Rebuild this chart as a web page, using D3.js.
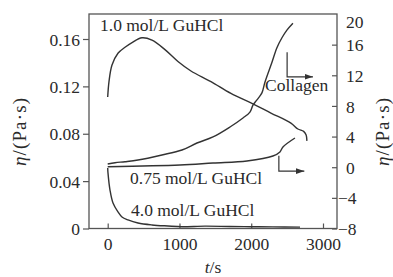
<!DOCTYPE html>
<html>
<head>
<meta charset="utf-8">
<script src="https://cdn.jsdelivr.net/npm/d3@7"></script>
<style>
  body { margin: 0; background: #fff; }
</style>
</head>
<body>
<div id="figure"></div>
<script>
// curves: [t (s), eta]
// left axis (Pa·s)
const gu10 = [[0,0.111],[18,0.124],[60,0.138],[143,0.148],[241,0.153],[339,0.157],[478,0.161],[617,0.159],
  [798,0.151],[979,0.141],[1160,0.133],[1439,0.124],[1717,0.114],[1996,0.106],[2274,0.0975],[2553,0.089],
  [2650,0.084],[2730,0.082],[2765,0.079],[2776,0.074]];
const gu40 = [[0,0.051],[4,0.047],[32,0.0325],[74,0.0215],[143,0.014],[199,0.0097],[283,0.0072],[422,0.0046],
  [617,0.003],[840,0.0021],[1035,0.0015],[1355,0.002],[1700,0.0017],[2000,0.0015],[2300,0.0014],[2680,0.0012]];
// right axis (Pa·s)
const collagen = [[0,0.42],[102,0.59],[241,0.72],[422,0.94],[756,1.6],[1035,2.25],[1244,3.16],[1467,3.95],
  [1704,5.25],[1885,6.43],[1982,7.2],[2024,8.1],[2080,8.8],[2149,9.7],[2191,11.1],[2289,13.7],[2358,15.6],
  [2428,16.9],[2497,17.9],[2581,18.8]];
const gu075 = [[0,0.07],[1007,0.29],[1467,0.55],[1940,0.81],[2302,1.46],[2400,1.99],[2442,2.64],[2609,3.81]];

const xTicks = [0, 1000, 2000, 3000];
const yLeftTicks = [0, 0.04, 0.08, 0.12, 0.16];
const yRightTicks = [-8, -4, 0, 4, 8, 12, 16, 20];

const W = 393, H = 277;
const m = {left: 89, right: 337, top: 14, bottom: 228.5};
const ink = "#2a2a2a";
const fs = 17.5;
const serif = "'Liberation Serif', 'Times New Roman', Times, serif";

const svg = d3.select("#figure").append("svg")
  .attr("width", W).attr("height", H)
  .style("font-family", serif);

const x = d3.scaleLinear().domain([0, 3000]).range([107.7, 323]);
const yL = d3.scaleLinear().domain([0, 0.16]).range([m.bottom, 39]);
const yR = d3.scaleLinear().domain([-8, 20]).range([m.bottom, m.top]);

// frame
svg.append("rect")
  .attr("x", m.left).attr("y", m.top)
  .attr("width", m.right - m.left).attr("height", m.bottom - m.top)
  .attr("fill", "none").attr("stroke", "#555").attr("stroke-width", 1.3);

function styleAxis(g) {
  g.attr("font-family", serif).attr("font-size", fs);
  g.select(".domain").remove();
  g.selectAll("line").attr("stroke", "#555").attr("stroke-width", 1.2);
  g.selectAll("text").attr("fill", ink).attr("font-family", serif);
}

// x axis: ticks point inward
const xAxis = svg.append("g")
  .attr("transform", `translate(0,${m.bottom})`)
  .call(d3.axisBottom(x).tickValues(xTicks).tickFormat(d3.format("d"))
    .tickSizeInner(-5).tickSizeOuter(0).tickPadding(12));
styleAxis(xAxis);
xAxis.selectAll("text").attr("dy", "0.55em");

// left axis: ticks outward
const yAxisL = svg.append("g")
  .attr("transform", `translate(${m.left},0)`)
  .call(d3.axisLeft(yL).tickValues(yLeftTicks).tickFormat(d => d === 0 ? "0" : d3.format(".2f")(d))
    .tickSizeInner(6).tickSizeOuter(0).tickPadding(3));
styleAxis(yAxisL);
yAxisL.selectAll("text").attr("dy", "0.35em");

// right axis: ticks inward, labels aligned on the digits
const yAxisR = svg.append("g")
  .attr("transform", `translate(${m.right},0)`)
  .call(d3.axisRight(yR).tickValues(yRightTicks).tickFormat(d => d < 0 ? "\u2212" + Math.abs(d) : d)
    .tickSizeInner(-5).tickSizeOuter(0).tickPadding(9));
styleAxis(yAxisR);
yAxisR.selectAll("line").attr("opacity", d => d === 20 ? 0 : 1);
yAxisR.selectAll("text")
  .attr("dy", d => d === 20 ? "0.75em" : "0.35em")
  .attr("x", d => d < 0 ? 1 : 9);

// curves
const lineL = d3.line().x(d => x(d[0])).y(d => yL(d[1])).curve(d3.curveCatmullRom);
const lineR = d3.line().x(d => x(d[0])).y(d => yR(d[1])).curve(d3.curveCatmullRom);
[[gu10, lineL], [gu40, lineL], [collagen, lineR], [gu075, lineR]].forEach(([data, gen]) => {
  svg.append("path").datum(data)
    .attr("d", gen)
    .attr("fill", "none").attr("stroke", "#333").attr("stroke-width", 1.4)
    .attr("stroke-linejoin", "round");
});

// arrows toward the right axis
svg.append("defs").append("marker")
  .attr("id", "ah").attr("viewBox", "0 0 10 10").attr("refX", 10).attr("refY", 5)
  .attr("markerWidth", 7).attr("markerHeight", 7).attr("orient", "auto")
  .append("path").attr("d", "M0,1.5 L10,5 L0,8.5 Z").attr("fill", "#333");

function elbow(t0, v0, v1, t1) {
  svg.append("path")
    .attr("d", `M${x(t0)},${yR(v0)} V${yR(v1)} H${x(t1)}`)
    .attr("fill", "none").attr("stroke", "#333").attr("stroke-width", 1.2)
    .attr("marker-end", "url(#ah)");
}
elbow(2500, 15, 11.8, 2860);
elbow(2385, 1.5, -0.5, 2740);

// curve labels
const labels = [
  {text: "1.0 mol/L GuHCl", x: 100, y: 25},
  {text: "Collagen", x: 265, y: 85},
  {text: "0.75 mol/L GuHCl", x: 130, y: 178},
  {text: "4.0 mol/L GuHCl", x: 131, y: 210}
];
svg.selectAll(".lbl").data(labels).join("text")
  .attr("class", "lbl")
  .attr("x", d => d.x).attr("y", d => d.y).attr("dy", "0.35em")
  .attr("font-size", fs).attr("fill", ink).attr("font-family", serif)
  .text(d => d.text);

// axis titles
const xt = svg.append("text").attr("x", 213).attr("y", 267).attr("dy", "0.35em")
  .attr("text-anchor", "middle").attr("font-size", fs).attr("fill", ink).attr("font-family", serif);
xt.append("tspan").attr("font-style", "italic").text("t");
xt.append("tspan").text("/s");

function yTitle(cx, cy) {
  const t = svg.append("text")
    .attr("transform", `translate(${cx},${cy}) rotate(-90)`)
    .attr("dy", "0.35em").attr("text-anchor", "middle").attr("font-size", 19)
    .attr("fill", ink).attr("font-family", serif)
    .attr("textLength", 68).attr("lengthAdjust", "spacing");
  t.append("tspan").attr("font-style", "italic").text("\u03b7");
  t.append("tspan").text("/(Pa\u00b7s)");
}
yTitle(19, 132);
yTitle(382, 132);
</script>
</body>
</html>
